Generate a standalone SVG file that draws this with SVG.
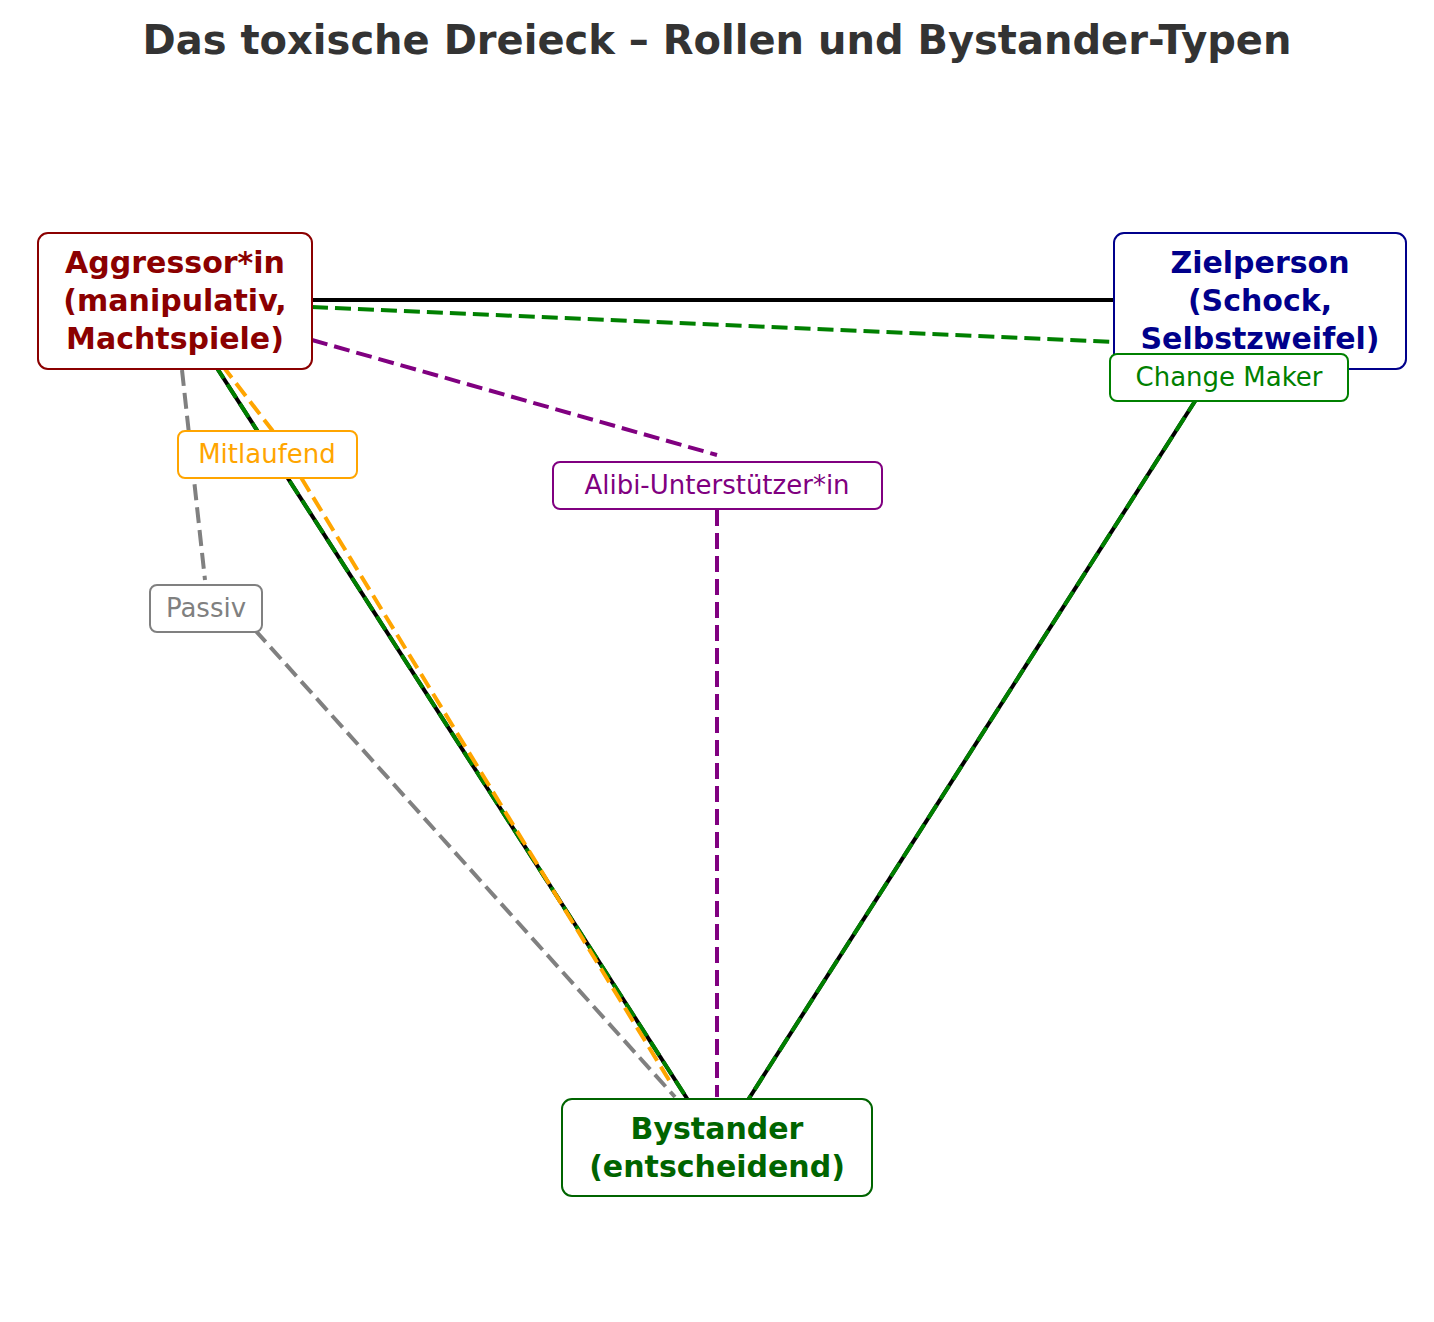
<svg xmlns="http://www.w3.org/2000/svg" width="1434" height="1322" viewBox="0 0 1434 1322">
<style>
text{font-family:"DejaVu Sans",sans-serif;text-anchor:middle}
.n{font-size:30px;font-weight:bold}
.l{font-size:26px}
.box{fill:#fff;stroke-width:2}
line,polyline{fill:none;stroke-width:4}
.d{stroke-dasharray:16,7}
</style>
<rect width="1434" height="1322" fill="#fff"/>
<text x="717" y="54" style="font-size:40px;font-weight:bold" fill="#333">Das toxische Dreieck – Rollen und Bystander-Typen</text>
<g id="connectors">
<line x1="312" y1="300" x2="1115" y2="300" stroke="#000"/>
<line x1="215" y1="365" x2="688" y2="1100" stroke="#000"/>
<line x1="1197" y1="398" x2="748" y2="1100" stroke="#000"/>
<line x1="215" y1="365" x2="688" y2="1100" stroke="green" class="d"/>
<line x1="1197" y1="398" x2="748" y2="1100" stroke="green" class="d"/>
<line x1="312" y1="307" x2="1115" y2="342" stroke="green" class="d"/>
<polyline points="222,365 272,430 672,1085" stroke="orange" class="d"/>
<polyline points="182,370 205,580" stroke="gray" class="d"/>
<polyline points="255,630 675,1097" stroke="gray" class="d"/>
<polyline points="312,340 717,455" stroke="purple" class="d"/>
<polyline points="717,510 717,1097" stroke="purple" class="d"/>
</g>
<g id="aggressor"><rect class="box" x="38" y="233" width="274" height="136" rx="10" stroke="#8b0000"/>
<text class="n" fill="#8b0000"><tspan x="175" y="273">Aggressor*in</tspan><tspan x="175" y="311">(manipulativ,</tspan><tspan x="175" y="349">Machtspiele)</tspan></text></g>
<g id="zielperson"><rect class="box" x="1114" y="233" width="292" height="136" rx="10" stroke="#00008b"/>
<text class="n" fill="#00008b"><tspan x="1260" y="273">Zielperson</tspan><tspan x="1260" y="311">(Schock,</tspan><tspan x="1260" y="349">Selbstzweifel)</tspan></text></g>
<g id="bystander"><rect class="box" x="562" y="1099" width="310" height="97" rx="10" stroke="#006400"/>
<text class="n" fill="#006400"><tspan x="717" y="1139">Bystander</tspan><tspan x="717" y="1177">(entscheidend)</tspan></text></g>
<g id="changemaker"><rect class="box" x="1110" y="354" width="238" height="47" rx="7" stroke="green"/><text class="l" x="1229" y="386" fill="green">Change Maker</text></g>
<g id="mitlaufend"><rect class="box" x="178" y="431" width="179" height="47" rx="7" stroke="orange"/><text class="l" x="267" y="463" fill="orange">Mitlaufend</text></g>
<g id="alibi"><rect class="box" x="553" y="462" width="329" height="47" rx="7" stroke="purple"/><text class="l" x="717" y="494" fill="purple">Alibi-Unterstützer*in</text></g>
<g id="passiv"><rect class="box" x="150" y="585" width="112" height="47" rx="7" stroke="gray"/><text class="l" x="206" y="617" fill="gray">Passiv</text></g>
</svg>
